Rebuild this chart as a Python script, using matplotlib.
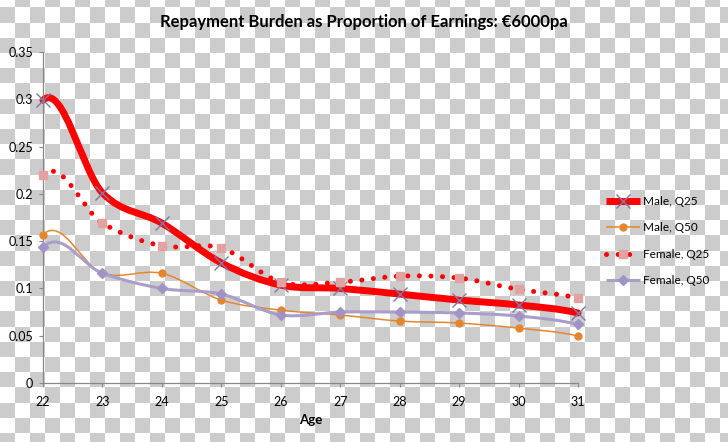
import matplotlib
matplotlib.use("Agg")
import matplotlib.pyplot as plt
import numpy as np
from matplotlib.path import Path
from matplotlib.patches import PathPatch
from matplotlib.lines import Line2D

plt.rcParams['font.family'] = ['Lato', 'DejaVu Sans']

# data
ages = [22, 23, 24, 25, 26, 27, 28, 29, 30, 31]
male_q25 = [0.299, 0.201, 0.169, 0.127, 0.1035, 0.100, 0.094, 0.0877, 0.0825, 0.074]
male_q50 = [0.157, 0.116, 0.116, 0.0877, 0.077, 0.0719, 0.0655, 0.0634, 0.058, 0.0497]
female_q25 = [0.220, 0.169, 0.145, 0.1427, 0.1067, 0.1067, 0.113, 0.111, 0.099, 0.0898]
female_q50 = [0.1437, 0.116, 0.100, 0.094, 0.072, 0.075, 0.075, 0.074, 0.0708, 0.062]
labels = ["Male, Q25", "Male, Q50", "Female, Q25", "Female, Q50"]
yticks = [0, 0.05, 0.1, 0.15, 0.2, 0.25, 0.3, 0.35]


def smooth_path(xs, ys, k0=0.02, k1=0.005):
    # excel-like smoothed line as bezier segments
    n = len(xs)
    verts = [(xs[0], ys[0])]
    codes = [Path.MOVETO]
    for i in range(n - 1):
        if i == 0:
            c1 = (xs[0] + (xs[1] - xs[0]) / 3, ys[0] + k0)
        else:
            c1 = (xs[i] + (xs[i + 1] - xs[i - 1]) / 6, ys[i] + (ys[i + 1] - ys[i - 1]) / 6)
        if i == n - 2:
            c2 = (xs[-1] - (xs[-1] - xs[-2]) / 3, ys[-1] + k1)
        else:
            c2 = (xs[i + 1] - (xs[i + 2] - xs[i]) / 6, ys[i + 1] - (ys[i + 2] - ys[i]) / 6)
        verts += [c1, c2, (xs[i + 1], ys[i + 1])]
        codes += [Path.CURVE4] * 3
    return Path(verts, codes)


fig = plt.figure(figsize=(7.28, 4.42), dpi=100)

# transparent-look checkerboard
yy, xx = np.mgrid[0:442, 0:728]
cell = ((xx // 15) + np.floor((yy + 8.2) / 15.2)).astype(int) % 2
bg = np.where(cell == 1, 204, 255).astype(np.uint8)
bg = np.dstack([bg, bg, bg])
fig.figimage(bg, xo=0, yo=0, origin='upper', zorder=-10)

ax = fig.add_axes([43 / 728, 1 - 383 / 442, (578 - 43) / 728, (383 - 52) / 442])
ax.set_facecolor('none')

series = [
    (male_q25, dict(color='#ff0000', lw=5.0, ls='-'), dict(marker='x', ms=10, mec='#7d7aa6', mfc='none', mew=1.0)),
    (male_q50, dict(color='#e5862f', lw=1.1, ls='-'), dict(marker='o', ms=5, mec='#e5862f', mfc='#e5862f')),
    (female_q25, dict(color='#ff0000', lw=3.6, ls=(0, (0.01, 2.3))), dict(marker='s', ms=6, mec='#e3a2a2', mfc='#e3a2a2')),
    (female_q50, dict(color='#a99dca', lw=2.2, ls='-'), dict(marker='D', ms=5.5, mec='#a194c4', mfc='#a194c4')),
]

handles = []
for (vals, lsty, msty), lab in zip(series, labels):
    p = PathPatch(smooth_path(ages, vals), facecolor='none', edgecolor=lsty['color'],
                  lw=lsty['lw'], ls=lsty['ls'], capstyle='round', joinstyle='round', clip_on=False)
    ax.add_patch(p)
    ax.plot(ages, vals, ls='none', clip_on=False, zorder=3, **msty)
    h = Line2D([0], [0], color=lsty['color'], lw=lsty['lw'], ls=lsty['ls'],
               dash_capstyle='round', solid_capstyle='butt', **msty)
    handles.append(h)

ax.set_xlim(22, 31)
ax.set_ylim(0, 0.35)
ax.set_xticks(ages)
ax.set_yticks(yticks)
ax.set_yticklabels(["0", "0.05", "0.1", "0.15", "0.2", "0.25", "0.3", "0.35"])
for s in ['top', 'right']:
    ax.spines[s].set_visible(False)
for s in ['left', 'bottom']:
    ax.spines[s].set_color('#888888')
    ax.spines[s].set_linewidth(0.9)
ax.tick_params(axis='both', direction='out', length=3, width=0.8, color='#888888',
               labelsize=9, labelcolor='#000000')
ax.tick_params(axis='x', pad=6)
ax.tick_params(axis='y', pad=4)

ax.set_xlabel("Age", fontsize=9.5, fontweight='bold', labelpad=5)
fig.text(364 / 728, 1 - 22 / 442, "Repayment Burden as Proportion of Earnings: \u20ac6000pa",
         ha='center', va='center', fontsize=12, fontweight='bold')

leg = fig.legend(handles=handles, labels=labels, loc='upper left',
                 bbox_to_anchor=(606 / 728, 1 - 196 / 442), frameon=False,
                 fontsize=8.5, handlelength=2.9, handletextpad=0.25,
                 labelspacing=1.3, borderpad=0, borderaxespad=0, numpoints=1)

fig.savefig("out.png", dpi=100)
